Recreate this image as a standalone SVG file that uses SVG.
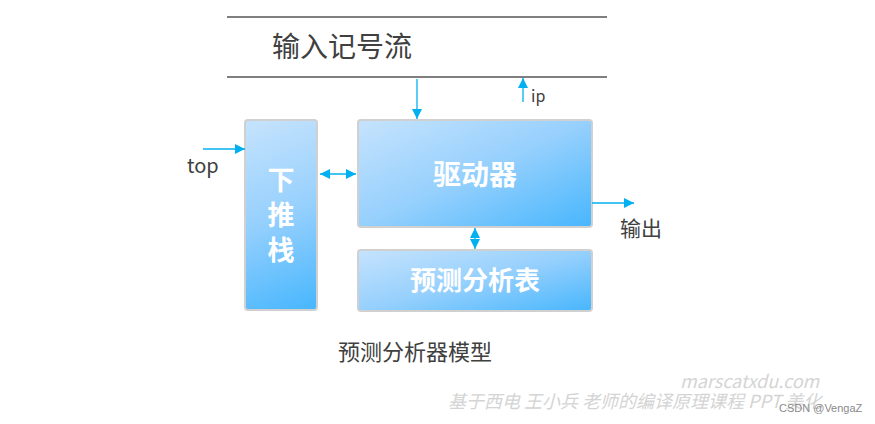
<svg xmlns="http://www.w3.org/2000/svg" width="875" height="424" viewBox="0 0 875 424">
<defs>
<linearGradient id="g" x1="0" y1="0" x2="1" y2="1">
<stop offset="0" stop-color="#c6e3fd"/>
<stop offset="0.5" stop-color="#96d0fd"/>
<stop offset="1" stop-color="#47b6fd"/>
</linearGradient>
<linearGradient id="gs" gradientUnits="userSpaceOnUse" x1="245" y1="120" x2="317" y2="310">
<stop offset="0" stop-color="#c6e3fd"/>
<stop offset="0.5" stop-color="#96d0fd"/>
<stop offset="1" stop-color="#47b6fd"/>
</linearGradient>
<marker id="ah" viewBox="0 0 10 10" refX="10" refY="5" markerWidth="10" markerHeight="10" markerUnits="userSpaceOnUse" orient="auto-start-reverse">
<path d="M0,0 L10,5 L0,10 z" fill="#00b0f0"/>
</marker>
<style>
.box{fill:url(#g);stroke:#d0d0d0;stroke-width:2}
.wt{font-family:"Noto Sans CJK SC","Noto Sans",sans-serif;font-weight:bold;fill:#fff;text-anchor:middle}
.lbl{font-family:"Noto Sans CJK SC","Noto Sans",sans-serif;fill:#404040}
.c{stroke:#00b0f0;stroke-width:1.3;fill:none}
.wm{font-family:"Noto Sans CJK SC","Noto Sans",sans-serif;font-style:italic;fill:#d4d4d4}
</style>
</defs>
<rect width="875" height="424" fill="#fff"/>
<g id="input">
<line x1="227" y1="17" x2="607" y2="17" stroke="#000" stroke-width="1.2"/>
<line x1="227" y1="77" x2="607" y2="77" stroke="#000" stroke-width="1.2"/>
<text class="lbl" x="272" y="57" font-size="28">输入记号流</text>
</g>
<g id="stack">
<rect class="box" x="245" y="120" width="72" height="190" rx="3" style="fill:url(#gs)"/>
<text class="wt" x="281" y="190" font-size="27"><tspan x="281" y="190">下</tspan><tspan x="281" y="225">推</tspan><tspan x="281" y="260">栈</tspan></text>
</g>
<g id="driver">
<rect class="box" x="358" y="120" width="234" height="107" rx="3"/>
<text class="wt" x="475" y="185" font-size="28">驱动器</text>
</g>
<g id="table">
<rect class="box" x="358" y="250" width="234" height="61" rx="3"/>
<text class="wt" x="475" y="290" font-size="26">预测分析表</text>
</g>
<g id="connectors">
<line class="c" x1="203" y1="149" x2="245" y2="149" marker-end="url(#ah)"/>
<line class="c" x1="320" y1="174" x2="356" y2="174" marker-start="url(#ah)" marker-end="url(#ah)"/>
<line class="c" x1="417" y1="79" x2="417" y2="119" marker-end="url(#ah)"/>
<line class="c" x1="523" y1="102" x2="523" y2="78" marker-end="url(#ah)"/>
<line class="c" x1="592" y1="203" x2="634" y2="203" marker-end="url(#ah)"/>
<line class="c" x1="475" y1="228" x2="475" y2="249" marker-start="url(#ah)" marker-end="url(#ah)"/>
</g>
<g id="labels">
<text class="lbl" x="187" y="173" font-size="20">top</text>
<text class="lbl" x="531" y="102" font-size="16">ip</text>
<text class="lbl" x="620" y="236" font-size="21">输出</text>
<text class="lbl" x="338" y="360" font-size="22">预测分析器模型</text>
</g>
<g id="watermark">
<text class="wm" x="680" y="388" font-size="18">marscatxdu.com</text>
<text class="wm" x="448" y="408" font-size="18">基于西电 王小兵 老师的编译原理课程 PPT 美化</text>
<text x="779" y="412" font-size="11" font-family="'Liberation Sans',sans-serif" fill="#8a8a8a">CSDN @VengaZ</text>
</g>
</svg>
